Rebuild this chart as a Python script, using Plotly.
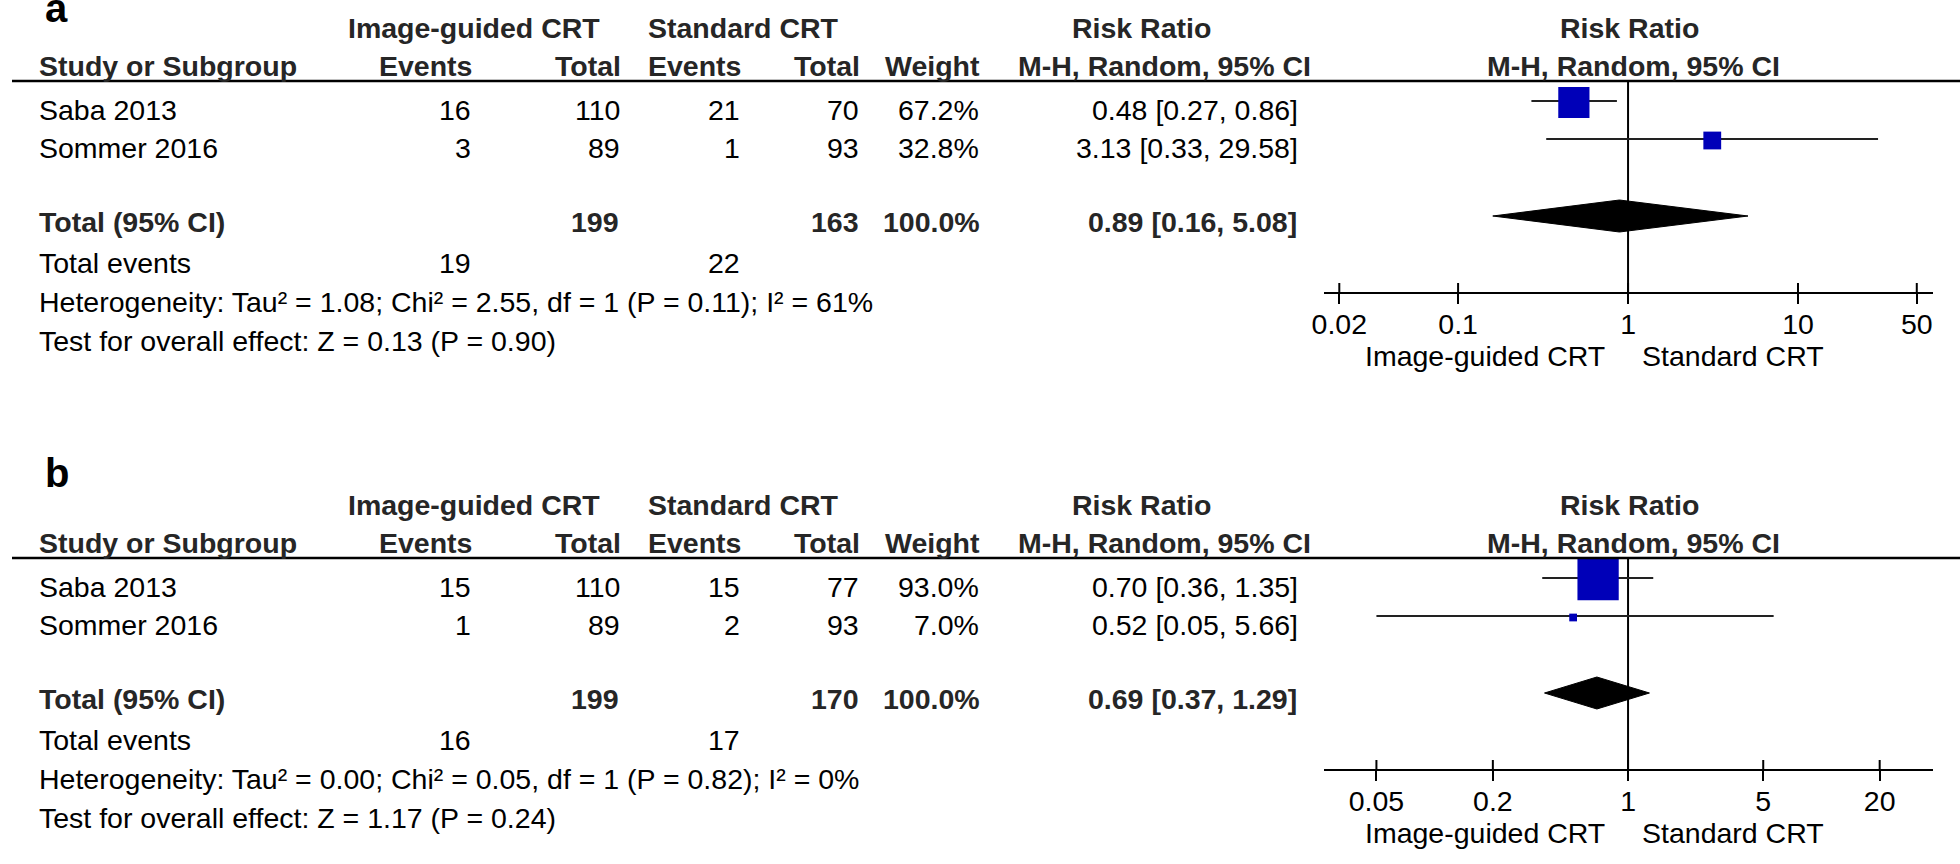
import plotly.graph_objects as go

W, H = 1960, 864
FONT = "Arial, 'Liberation Sans', Helvetica, sans-serif"
FS = 28.5

# ---------------- DATA ----------------
studies = ["Saba 2013", "Sommer 2016"]

# Panel a
a_ig_events = [16, 3]
a_ig_total = [110, 89]
a_std_events = [21, 1]
a_std_total = [70, 93]
a_weight = [67.2, 32.8]
a_rr = [0.48, 3.13]
a_lo = [0.27, 0.33]
a_hi = [0.86, 29.58]
a_total_ig = 199
a_total_std = 163
a_total_rr = [0.89, 0.16, 5.08]
a_total_events = [19, 22]
a_het = [1.08, 2.55, 1, 0.11, 61]
a_test = [0.13, 0.90]
a_ticks = [0.02, 0.1, 1, 10, 50]
a_ticklabels = ["0.02", "0.1", "1", "10", "50"]

# Panel b
b_ig_events = [15, 1]
b_ig_total = [110, 89]
b_std_events = [15, 2]
b_std_total = [77, 93]
b_weight = [93.0, 7.0]
b_rr = [0.70, 0.52]
b_lo = [0.36, 0.05]
b_hi = [1.35, 5.66]
b_total_ig = 199
b_total_std = 170
b_total_rr = [0.69, 0.37, 1.29]
b_total_events = [16, 17]
b_het = [0.00, 0.05, 1, 0.82, 0]
b_test = [1.17, 0.24]
b_ticks = [0.05, 0.2, 1, 5, 20]
b_ticklabels = ["0.05", "0.2", "1", "5", "20"]

group_labels = ["Image-guided CRT", "Standard CRT"]

panels = [
    dict(letter="a", top=0, letter_y=10, ige=a_ig_events, igt=a_ig_total, ste=a_std_events,
         stt=a_std_total, w=a_weight, rr=a_rr, lo=a_lo, hi=a_hi, tig=a_total_ig,
         tst=a_total_std, trr=a_total_rr, tev=a_total_events, het=a_het, test=a_test,
         ticks=a_ticks, ticklabels=a_ticklabels, px_per_dec=171.0, xa="x"),
    dict(letter="b", top=477, letter_y=475, ige=b_ig_events, igt=b_ig_total, ste=b_std_events,
         stt=b_std_total, w=b_weight, rr=b_rr, lo=b_lo, hi=b_hi, tig=b_total_ig,
         tst=b_total_std, trr=b_total_rr, tev=b_total_events, het=b_het, test=b_test,
         ticks=b_ticks, ticklabels=b_ticklabels, px_per_dec=194.6, xa="x2"),
]

# ---------------- LAYOUT GEOMETRY (pixels) ----------------
PLOT_L, PLOT_R, ONE_PX = 1320, 1933, 1626
BLUE = "#0000B8"
BOLD_COLOR = "#262626"
DY = -2  # small text baseline correction

fig = go.Figure()
annotations = []
shapes = []


def txt(s, x, y, anchor="left", bold=False, size=FS, color=None):
    if color is None:
        color = BOLD_COLOR if bold else "black"
    annotations.append(dict(
        text=f"<b>{s}</b>" if bold else s, x=x / W, y=y + DY, xref="paper", yref="y",
        xanchor=anchor, yanchor="middle", showarrow=False, borderpad=0, borderwidth=0,
        font=dict(family=FONT, size=size, color=color)))


layout_axes = {}
for p in panels:
    t = p["top"]
    # --- text table ---
    txt(p["letter"], 33, p["letter_y"], bold=True, size=40, color="black")
    txt(group_labels[0], 465, t + 30, "center", bold=True)
    txt(group_labels[1], 736, t + 30, "center", bold=True)
    txt("Risk Ratio", 1136, t + 30, "center", bold=True)
    txt("Risk Ratio", 1627, t + 30, "center", bold=True)
    txt("Study or Subgroup", 27, t + 68, "left", bold=True)
    txt("Events", 463, t + 68, "right", bold=True)
    txt("Total", 613, t + 68, "right", bold=True)
    txt("Events", 733, t + 68, "right", bold=True)
    txt("Total", 853, t + 68, "right", bold=True)
    txt("Weight", 974, t + 68, "right", bold=True)
    txt("M-H, Random, 95% CI", 1307, t + 68, "right", bold=True)
    txt("M-H, Random, 95% CI", 1631, t + 68, "center", bold=True)

    row_y = [t + 112, t + 150]
    for i, s in enumerate(studies):
        y = row_y[i]
        txt(s, 27, y, "left")
        txt(str(p["ige"][i]), 462, y, "right")
        txt(str(p["igt"][i]), 612, y, "right")
        txt(str(p["ste"][i]), 732, y, "right")
        txt(str(p["stt"][i]), 852, y, "right")
        txt(f"{p['w'][i]:.1f}%", 973, y, "right")
        txt(f"{p['rr'][i]:.2f} [{p['lo'][i]:.2f}, {p['hi'][i]:.2f}]", 1294, y, "right")

    yT = t + 224
    txt("Total (95% CI)", 27, yT, "left", bold=True)
    txt(str(p["tig"]), 611, yT, "right", bold=True)
    txt(str(p["tst"]), 852, yT, "right", bold=True)
    txt(f"{sum(p['w']):.1f}%", 974, yT, "right", bold=True)
    trr = p["trr"]
    txt(f"{trr[0]:.2f} [{trr[1]:.2f}, {trr[2]:.2f}]", 1293, yT, "right", bold=True)

    yE = t + 265
    txt("Total events", 27, yE, "left")
    txt(str(p["tev"][0]), 462, yE, "right")
    txt(str(p["tev"][1]), 732, yE, "right")

    h = p["het"]
    txt(f"Heterogeneity: Tau² = {h[0]:.2f}; Chi² = {h[1]:.2f}, df = {h[2]} (P = {h[3]:.2f}); I² = {h[4]}%",
        27, t + 304, "left")
    te = p["test"]
    txt(f"Test for overall effect: Z = {te[0]:.2f} (P = {te[1]:.2f})", 27, t + 343, "left")

    txt(group_labels[0], 1603, t + 358, "right")
    txt(group_labels[1], 1640, t + 358, "left")

    # header rule across whole width
    shapes.append(dict(type="line", xref="paper", yref="y", x0=0, x1=1,
                       y0=t + 81, y1=t + 81, line=dict(color="black", width=2.5)))

    # --- forest plot ---
    xa = p["xa"]
    ppd = p["px_per_dec"]
    rng = [(PLOT_L - ONE_PX) / ppd, (PLOT_R - ONE_PX) / ppd]
    axis_y = t + 293
    pos = 1 - axis_y / H
    dom = [PLOT_L / W, PLOT_R / W]

    # line of no effect
    fig.add_trace(go.Scatter(x=[1, 1], y=[t + 81, axis_y], mode="lines", xaxis=xa, yaxis="y",
                             line=dict(color="black", width=2), hoverinfo="skip"))
    # upper halves of the tick marks (ticks cross the axis line)
    tx, ty = [], []
    for v in p["ticks"]:
        tx += [v, v, None]
        ty += [axis_y - 10, axis_y, None]
    fig.add_trace(go.Scatter(x=tx, y=ty, mode="lines", xaxis=xa, yaxis="y",
                             line=dict(color="black", width=2), hoverinfo="skip"))
    # CI whiskers
    my = [t + 101, t + 139]
    cx, cy = [], []
    for i in range(len(studies)):
        cx += [p["lo"][i], p["hi"][i], None]
        cy += [my[i], my[i], None]
    fig.add_trace(go.Scatter(x=cx, y=cy, mode="lines", xaxis=xa, yaxis="y",
                             line=dict(color="#222", width=2), hoverinfo="skip"))
    # squares (size grows with weight)
    sizes = [5 + 0.39 * w for w in p["w"]]
    fig.add_trace(go.Scatter(x=p["rr"], y=[v + 1.5 for v in my], mode="markers", xaxis=xa, yaxis="y",
                             marker=dict(symbol="square", size=sizes, color=BLUE, opacity=1,
                                         line=dict(width=0)), hoverinfo="skip"))
    # pooled diamond
    dy = t + 216
    fig.add_trace(go.Scatter(x=[trr[1], trr[0], trr[2], trr[0], trr[1]],
                             y=[dy, dy - 16, dy, dy + 16, dy], mode="lines", fill="toself",
                             fillcolor="black", line=dict(color="black", width=1),
                             xaxis=xa, yaxis="y", hoverinfo="skip"))

    kx = "xaxis" if xa == "x" else "xaxis" + xa[1:]
    layout_axes[kx] = dict(type="log", domain=dom, range=rng, anchor="free", position=pos,
                           showgrid=False, zeroline=False, fixedrange=True,
                           showline=True, linecolor="black", linewidth=2,
                           ticks="outside", ticklen=10, tickwidth=2, tickcolor="black",
                           tickvals=p["ticks"], ticktext=p["ticklabels"],
                           ticklabelstandoff=-4,
                           tickfont=dict(family=FONT, size=FS, color="black"))

fig.update_layout(
    width=W, height=H, margin=dict(l=0, r=0, t=0, b=0, pad=0),
    paper_bgcolor="white", plot_bgcolor="rgba(0,0,0,0)", showlegend=False,
    yaxis=dict(range=[H, 0], domain=[0, 1], visible=False, fixedrange=True, anchor="free", position=0),
    annotations=annotations, shapes=shapes, **layout_axes,
)

fig.write_html("out.html", config={"displayModeBar": False, "staticPlot": True},
               post_script="document.body.style.margin='0px';document.body.style.overflow='hidden';")
